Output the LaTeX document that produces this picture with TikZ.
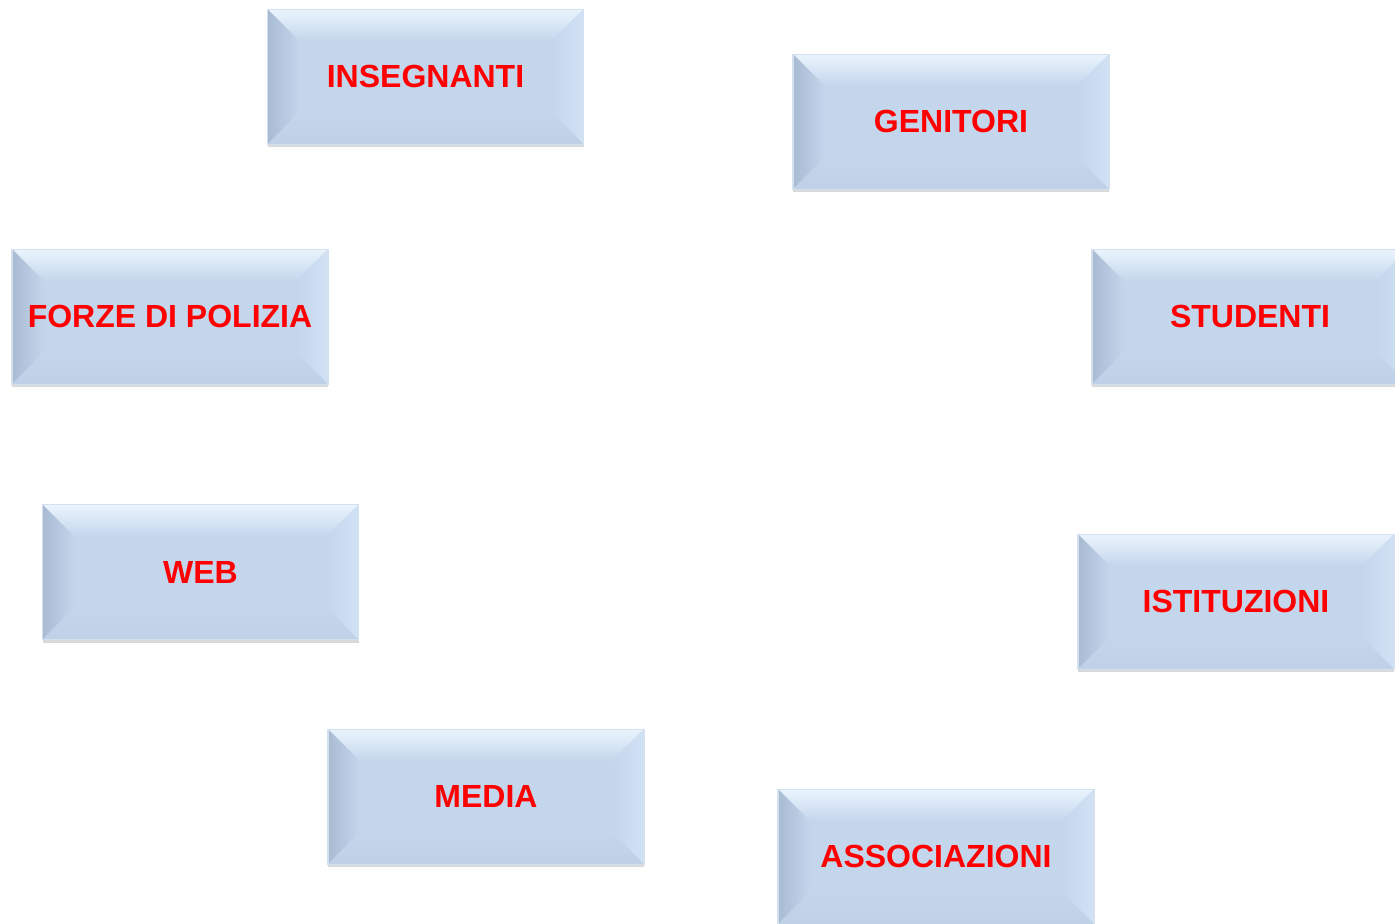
\documentclass[tikz,border=0pt]{standalone}
\usepackage{fontspec}
\setmainfont{Liberation Sans}
\usetikzlibrary{positioning}
\usetikzlibrary{shadows}

\definecolor{boxfill}{HTML}{C4D6EC}
\definecolor{boxedge}{HTML}{D4E0EE}
\definecolor{bevtop}{HTML}{EAF4FD}
\definecolor{bevleft}{HTML}{A9BBD2}
\definecolor{bevright}{HTML}{D2E2F5}
\definecolor{bevbot}{HTML}{BFD1E7}

\tikzset{
  bevelbox/.style={rectangle, minimum width=158pt, minimum height=67.5pt, inner sep=0pt,
    fill=boxfill, draw=boxedge, line width=0.6pt, text=red,
    font=\fontsize{16}{18}\selectfont\bfseries, yshift=-0.6pt,
    drop shadow={opacity=0.3, shadow xshift=0pt, shadow yshift=-1.5pt},
    path picture={
      \coordinate (bnw) at (path picture bounding box.north west);
      \coordinate (bne) at (path picture bounding box.north east);
      \coordinate (bsw) at (path picture bounding box.south west);
      \coordinate (bse) at (path picture bounding box.south east);
      \shade[top color=bevtop, bottom color=boxfill]
        (bnw) -- (bne) -- ([shift={(-16pt,-16pt)}]bne) -- ([shift={(16pt,-16pt)}]bnw) -- cycle;
      \shade[left color=bevleft, right color=boxfill]
        (bnw) -- ([shift={(16pt,-16pt)}]bnw) -- ([shift={(16pt,16pt)}]bsw) -- (bsw) -- cycle;
      \shade[left color=boxfill, right color=bevright]
        (bne) -- ([shift={(-16pt,-16pt)}]bne) -- ([shift={(-16pt,16pt)}]bse) -- (bse) -- cycle;
      \shade[top color=boxfill, bottom color=bevbot]
        (bsw) -- ([shift={(16pt,16pt)}]bsw) -- ([shift={(-16pt,16pt)}]bse) -- (bse) -- cycle;
    }}
}

\begin{document}
\begin{tikzpicture}[x=0.5pt,y=-0.5pt]
        \useasboundingbox (0,0) rectangle (1395,923);
        \clip (0,0) rectangle (1395,923);

        \node (insegnanti) at (425.5,75.5) [bevelbox] {INSEGNANTI};
        \node (genitori) at (951,120.5) [bevelbox] {GENITORI};
        \node (polizia) at (170,315.5) [bevelbox] {FORZE DI POLIZIA};
        \node (studenti) at (1250,315.5) [bevelbox] {STUDENTI};
        \node (web) at (200.5,571) [bevelbox] {WEB};
        \node (istituzioni) at (1236,600.5) [bevelbox] {ISTITUZIONI};
        \node (media) at (486,795.5) [bevelbox] {MEDIA};
        \node (associazioni) at (936,855.5) [bevelbox] {ASSOCIAZIONI};

\end{tikzpicture}
\end{document}
